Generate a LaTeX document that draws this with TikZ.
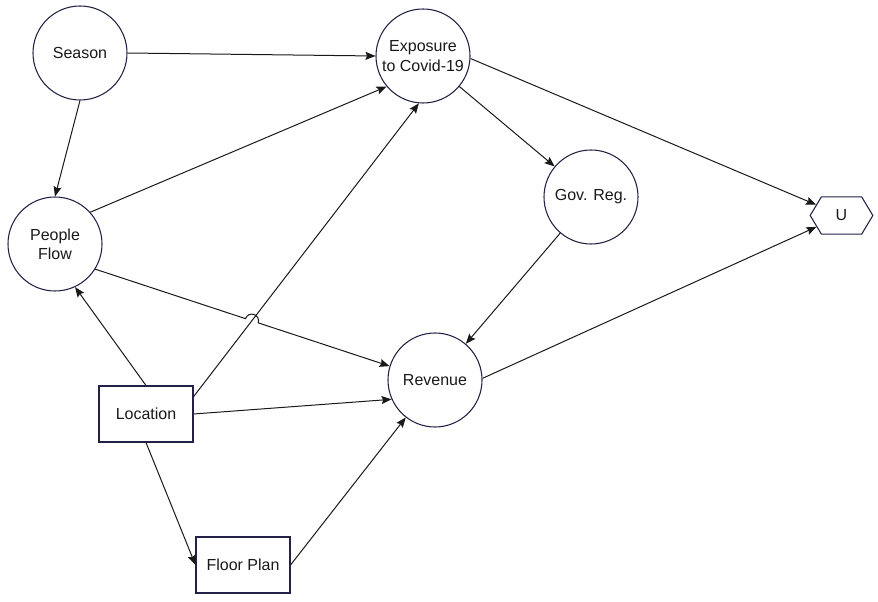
\documentclass[tikz,border=0pt]{standalone}
\usepackage{fontspec}
\setmainfont{Liberation Sans}
\usetikzlibrary{arrows.meta,shapes.symbols,calc,intersections}

\definecolor{rimblue}{RGB}{34,34,70}
\definecolor{inkgray}{RGB}{25,25,25}

\begin{document}
\begin{tikzpicture}[
	x=0.75pt,y=-0.75pt,
	>={Stealth[length=7.5pt,width=6pt,inset=1.2pt]},
	every node/.style={font=\fontsize{12}{14.5}\selectfont, text=inkgray},
	chance/.style={draw=rimblue, line width=0.8pt, circle, inner sep=0pt, minimum size=70.5pt, align=center},
	decis/.style={draw=rimblue, line width=0.8pt, rectangle, inner sep=0pt, minimum width=70.5pt, minimum height=42pt},
	util/.style={draw=rimblue, line width=0.8pt, shape=signal, signal to=west and east, signal pointer angle=118, inner sep=0pt, minimum width=47pt, minimum height=28pt},
	link/.style={->, draw=inkgray, line width=0.75pt}
	]
	\useasboundingbox (0,0) rectangle (878,602);
	
	% --------------------------
	% chance nodes
	% --------------------------
	\node[chance] (season) at (80,53) {Season};
	\node[chance] (expo) at (423,56) {Exposure\\to Covid-19};
	\node[chance] (pf) at (55,244) {People\\Flow};
	\node[chance] (gov) at (591,197) {Gov. Reg.};
	\node[chance] (rev) at (435,380) {Revenue};
	
	% decisions and utility
	\node[decis] (loc) at (146,414) {Location};
	\node[decis] (floor) at (243,565) {Floor Plan};
	\node[util] (u) at (841.5,215.5) {U};
	
	% --------------------------
	% influences
	% --------------------------
	\draw[link] (season.east) -- (expo.west);
	\draw[link] (season.south) -- (pf.north);
	\draw[link] (pf.42) -- (expo.220);
	\draw[link, name path=locexp] (loc.20) -- (expo.265);
	\draw[link] (loc.north) -- (pf.-65);
	\draw[link] (loc.east) -- (rev.204);
	\draw[link] (loc.south) -- (floor.west);
	\draw[link] (floor.east) -- (rev);
	\draw[link] (expo) -- (gov);
	\draw[link] (gov) -- (rev);
	\draw[link] (expo.-3) -- (u);
	\draw[link] (rev.2) -- (u);
	
	% people flow -> revenue, hopping over location -> exposure
	\path[name path=pfrev] (pf.-32) -- (rev.163);
	\path[name intersections={of=locexp and pfrev, by=hx}];
	\draw[link] let \p1=($(rev.163)-(pf.-32)$), \n1={atan2(\y1,\x1)} in
		(pf.-32) -- ($(hx)!5pt!(pf.-32)$) arc[start angle=\n1+180, end angle=\n1, radius=5pt] -- (rev.163);
	
\end{tikzpicture}
\end{document}
